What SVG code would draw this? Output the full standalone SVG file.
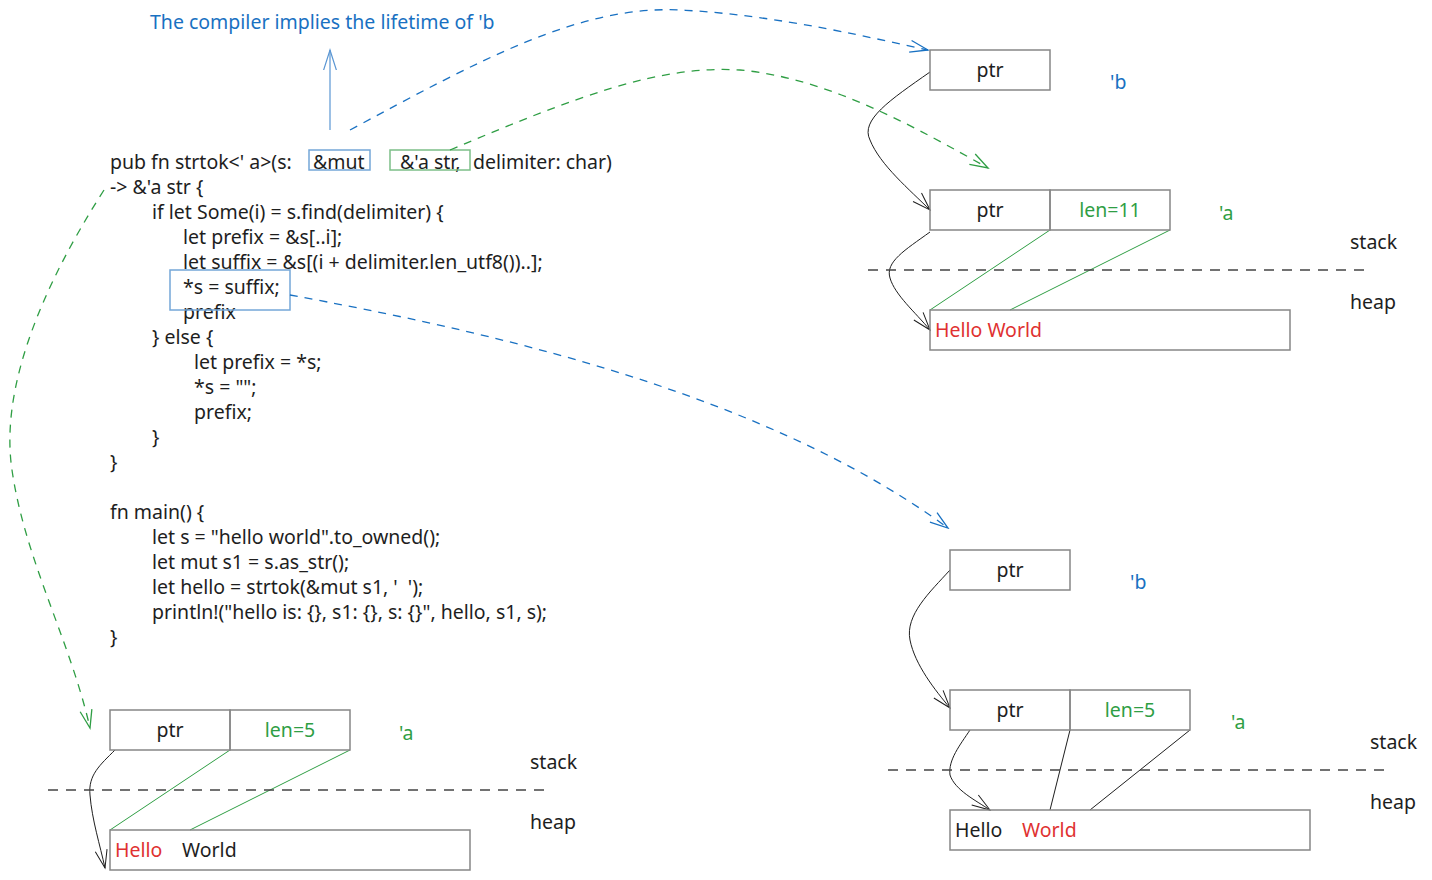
<svg xmlns="http://www.w3.org/2000/svg" width="1432" height="880" viewBox="0 0 1432 880">
<style>
text{font-family:"Noto Sans","Lato",sans-serif;font-size:19.5px;fill:#1e1e1e}
.bl{fill:#1971c2}
.gr{fill:#2f9e44}
.rd{fill:#e03131}
.ctr{text-anchor:middle}
.box{fill:none;stroke:#868686;stroke-width:1.5}
.dash{fill:none;stroke-width:1.3;stroke-dasharray:8 7}
.sep{stroke:#444;stroke-width:1.5;stroke-dasharray:10 8;fill:none}
.blk{fill:none;stroke:#1e1e1e;stroke-width:1}
.gl{fill:none;stroke:#2f9e44;stroke-width:1}
</style>
<defs>
<marker id="mb" viewBox="-20 -10 22 20" refX="0" refY="0" markerWidth="22" markerHeight="20" markerUnits="userSpaceOnUse" orient="auto"><path d="M-18,-6 L0,0 L-18,6" fill="none" stroke="#1971c2" stroke-width="1.3"/></marker>
<marker id="mlb" viewBox="-20 -10 22 20" refX="0" refY="0" markerWidth="22" markerHeight="20" markerUnits="userSpaceOnUse" orient="auto"><path d="M-22,-7 L0,0 L-22,7" fill="none" stroke="#5a96d3" stroke-width="1.2"/></marker>
<marker id="mg" viewBox="-20 -10 22 20" refX="0" refY="0" markerWidth="22" markerHeight="20" markerUnits="userSpaceOnUse" orient="auto"><path d="M-18,-6 L0,0 L-18,6" fill="none" stroke="#2f9e44" stroke-width="1.3"/></marker>
<marker id="mk" viewBox="-20 -10 22 20" refX="0" refY="0" markerWidth="22" markerHeight="20" markerUnits="userSpaceOnUse" orient="auto"><path d="M-18,-6 L0,0 L-18,6" fill="none" stroke="#1e1e1e" stroke-width="1"/></marker>
</defs>

<g id="title"><text class="bl" x="150" y="29">The compiler implies the lifetime of 'b</text></g>

<g id="code">
<text x="110" y="169">pub fn strtok&lt;' a&gt;(s:</text>
<text x="313" y="169">&amp;mut</text>
<text x="400" y="169">&amp;'a str,</text>
<text x="473" y="169">delimiter: char)</text>
<text x="110" y="194">-&gt; &amp;'a str {</text>
<text x="152" y="219">if let Some(i) = s.find(delimiter) {</text>
<text x="183" y="244">let prefix = &amp;s[..i];</text>
<text x="183" y="269">let suffix = &amp;s[(i + delimiter.len_utf8())..];</text>
<text x="183" y="294">*s = suffix;</text>
<text x="183" y="319">prefix</text>
<text x="152" y="344">} else {</text>
<text x="194" y="369">let prefix = *s;</text>
<text x="194" y="394">*s = "";</text>
<text x="194" y="419">prefix;</text>
<text x="152" y="444">}</text>
<text x="110" y="469">}</text>
<text x="110" y="519">fn main() {</text>
<text x="152" y="544">let s = "hello world".to_owned();</text>
<text x="152" y="569">let mut s1 = s.as_str();</text>
<text x="152" y="594">let hello = strtok(&amp;mut s1, '&#160; ');</text>
<text x="152" y="619">println!("hello is: {}, s1: {}, s: {}", hello, s1, s);</text>
<text x="110" y="644">}</text>
</g>

<g id="hl-mut"><rect x="309" y="150" width="61" height="20" fill="none" stroke="#74a7d8" stroke-width="1.5"/></g>
<g id="hl-str"><rect x="390" y="150" width="80" height="20" fill="none" stroke="#7cbf88" stroke-width="1.5"/></g>
<g id="hl-suffix"><rect x="170" y="270" width="120" height="40" fill="none" stroke="#74a7d8" stroke-width="1.5"/></g>

<g id="connectors">
<path d="M330,130 L330,50" fill="none" stroke="#5a96d3" stroke-width="1.2" marker-end="url(#mlb)"/>
<path class="dash" stroke="#1971c2" d="M350,130 C480,60 580,5 680,10 C780,15 880,40 928,50" marker-end="url(#mb)"/>
<path class="dash" stroke="#2f9e44" d="M450,150 C580,95 660,65 740,70 C830,78 920,130 988,168" marker-end="url(#mg)"/>
<path class="dash" stroke="#1971c2" d="M290,295 C480,330 760,390 948,528" marker-end="url(#mb)"/>
<path class="dash" stroke="#2f9e44" d="M104,190 C40,290 0,390 12,470 C25,560 70,640 90,728" marker-end="url(#mg)"/>
<path class="blk" d="M930,72 C890,100 860,120 870,140 C880,165 910,190 930,210" marker-end="url(#mk)"/>
<path class="blk" d="M930,232 C905,250 885,262 890,278 C895,295 915,312 930,330" marker-end="url(#mk)"/>
<path class="gl" d="M1050,230 L930,310"/>
<path class="gl" d="M1170,230 L1010,310"/>
<path class="blk" d="M115,750 C100,765 88,775 90,795 C92,820 100,845 105,868" marker-end="url(#mk)"/>
<path class="gl" d="M230,750 L110,830"/>
<path class="gl" d="M350,750 L190,830"/>
<path class="blk" d="M950,570 C930,592 905,615 910,640 C915,665 935,690 950,708" marker-end="url(#mk)"/>
<path class="blk" d="M970,730 C960,745 948,760 950,775 C955,790 975,800 990,810" marker-end="url(#mk)"/>
<path class="blk" d="M1070,730 L1050,810"/>
<path class="blk" d="M1190,730 L1090,810"/>
</g>

<g id="tr-b">
<rect class="box" x="930" y="50" width="120" height="40"/>
<text class="ctr" x="990" y="77">ptr</text>
<text class="bl" x="1110" y="89">'b</text>
</g>
<g id="tr-a">
<rect class="box" x="930" y="190" width="120" height="40"/>
<rect class="box" x="1050" y="190" width="120" height="40"/>
<text class="ctr" x="990" y="217">ptr</text>
<text class="ctr gr" x="1110" y="217">len=11</text>
<text class="gr" x="1219" y="220">'a</text>
</g>
<g id="tr-sep">
<text x="1350" y="249">stack</text>
<path class="sep" d="M868,270 L1372,270"/>
<text x="1350" y="309">heap</text>
</g>
<g id="tr-heap">
<rect class="box" x="930" y="310" width="360" height="40"/>
<text class="rd" x="935" y="337">Hello World</text>
</g>

<g id="bl-a">
<rect class="box" x="110" y="710" width="120" height="40"/>
<rect class="box" x="230" y="710" width="120" height="40"/>
<text class="ctr" x="170" y="737">ptr</text>
<text class="ctr gr" x="290" y="737">len=5</text>
<text class="gr" x="399" y="740">'a</text>
</g>
<g id="bl-sep">
<text x="530" y="769">stack</text>
<path class="sep" d="M48,790 L552,790"/>
<text x="530" y="829">heap</text>
</g>
<g id="bl-heap">
<rect class="box" x="110" y="830" width="360" height="40"/>
<text class="rd" x="115" y="857">Hello</text>
<text x="182" y="857">World</text>
</g>

<g id="br-b">
<rect class="box" x="950" y="550" width="120" height="40"/>
<text class="ctr" x="1010" y="577">ptr</text>
<text class="bl" x="1130" y="589">'b</text>
</g>
<g id="br-a">
<rect class="box" x="950" y="690" width="120" height="40"/>
<rect class="box" x="1070" y="690" width="120" height="40"/>
<text class="ctr" x="1010" y="717">ptr</text>
<text class="ctr gr" x="1130" y="717">len=5</text>
<text class="gr" x="1231" y="729">'a</text>
</g>
<g id="br-sep">
<text x="1370" y="749">stack</text>
<path class="sep" d="M888,770 L1392,770"/>
<text x="1370" y="809">heap</text>
</g>
<g id="br-heap">
<rect class="box" x="950" y="810" width="360" height="40"/>
<text x="955" y="837">Hello</text>
<text class="rd" x="1022" y="837">World</text>
</g>
</svg>
